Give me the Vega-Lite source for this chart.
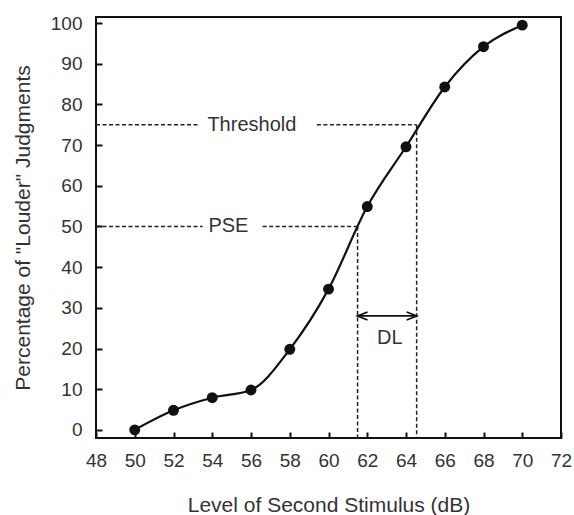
{
  "$schema": "https://vega.github.io/schema/vega-lite/v6.json",
  "width": 465,
  "height": 421,
  "autosize": {"type": "none"},
  "padding": {"left": 96, "top": 17, "right": 13, "bottom": 77},
  "background": "white",
  "config": {
    "view": {"stroke": "#111", "strokeWidth": 2},
    "font": "Liberation Sans",
    "axis": {
      "domain": false,
      "grid": false,
      "tickSize": -6,
      "tickColor": "#111",
      "tickWidth": 2,
      "labelFontSize": 19,
      "labelColor": "#333",
      "labelFlush": false,
      "labelOverlap": false,
      "titleFontSize": 21,
      "titleFontWeight": "normal",
      "titleColor": "#333"
    }
  },
  "datasets": {
    "pts": [
      {"x": 50, "y": 0},
      {"x": 52, "y": 4.8},
      {"x": 54, "y": 7.9},
      {"x": 56, "y": 9.8},
      {"x": 58, "y": 19.8},
      {"x": 60, "y": 34.6},
      {"x": 62, "y": 54.9},
      {"x": 64, "y": 69.6},
      {"x": 66, "y": 84.3},
      {"x": 68, "y": 94.2},
      {"x": 70, "y": 99.5}
    ],
    "segs": [
      {"x": 48, "x2": 53.3, "y": 75, "y2": 75},
      {"x": 59.4, "x2": 64.55, "y": 75, "y2": 75},
      {"x": 48, "x2": 53.5, "y": 50, "y2": 50},
      {"x": 56.6, "x2": 61.5, "y": 50, "y2": 50},
      {"x": 64.55, "x2": 64.55, "y": 75, "y2": -2},
      {"x": 61.5, "x2": 61.5, "y": 50, "y2": -2}
    ],
    "arrow": [
      {"x": 61.5, "x2": 64.55, "y": 28, "y2": 28}
    ],
    "heads": [
      {"x": 61.5, "y": 28, "side": "left"},
      {"x": 64.55, "y": 28, "side": "right"}
    ],
    "labels": [
      {"x": 53.75, "y": 75, "text": "Threshold"},
      {"x": 53.8, "y": 50, "text": "PSE"},
      {"x": 62.5, "y": 22.6, "text": "DL"}
    ]
  },
  "encoding": {
    "x": {
      "field": "x", "type": "quantitative",
      "scale": {"domain": [48, 72], "nice": false, "zero": false},
      "axis": {"values": [48, 50, 52, 54, 56, 58, 60, 62, 64, 66, 68, 70, 72], "labelPadding": 19, "titlePadding": 24, "labelOverlap": false, "labelFlush": false},
      "title": "Level of Second Stimulus (dB)"
    },
    "y": {
      "field": "y", "type": "quantitative",
      "scale": {"domain": [-2, 101.5], "nice": false, "zero": false},
      "axis": {"values": [0, 10, 20, 30, 40, 50, 60, 70, 80, 90, 100], "labelPadding": 20, "titlePadding": 17, "labelOverlap": false},
      "title": "Percentage of \"Louder\" Judgments"
    }
  },
  "layer": [
    {
      "data": {"name": "segs"},
      "mark": {"type": "rule", "color": "#222", "strokeWidth": 1.5, "strokeDash": [4, 2.5]},
      "encoding": {
        "x2": {"field": "x2"},
        "y2": {"field": "y2"}
      }
    },
    {
      "data": {"name": "arrow"},
      "mark": {"type": "rule", "color": "#111", "strokeWidth": 1.8},
      "encoding": {
        "x2": {"field": "x2"},
        "y2": {"field": "y2"}
      }
    },
    {
      "data": {"name": "heads"},
      "mark": {"type": "point", "filled": false, "stroke": "#111", "strokeWidth": 1.8, "size": 100, "opacity": 1},
      "encoding": {
        "shape": {
          "field": "side", "type": "nominal", "legend": null,
          "scale": {"domain": ["left", "right"], "range": ["M2,-0.8L0,0L2,0.8", "M-2,-0.8L0,0L-2,0.8"]}
        }
      }
    },
    {
      "data": {"name": "pts"},
      "mark": {"type": "line", "color": "#111", "strokeWidth": 2.2, "interpolate": "monotone"},
      "encoding": {}
    },
    {
      "data": {"name": "pts"},
      "mark": {"type": "point", "filled": true, "color": "#111", "size": 120, "opacity": 1},
      "encoding": {}
    },
    {
      "data": {"name": "labels"},
      "mark": {"type": "text", "align": "left", "baseline": "middle", "fontSize": 20, "color": "#333"},
      "encoding": {
        "text": {"field": "text"}
      }
    }
  ]
}
